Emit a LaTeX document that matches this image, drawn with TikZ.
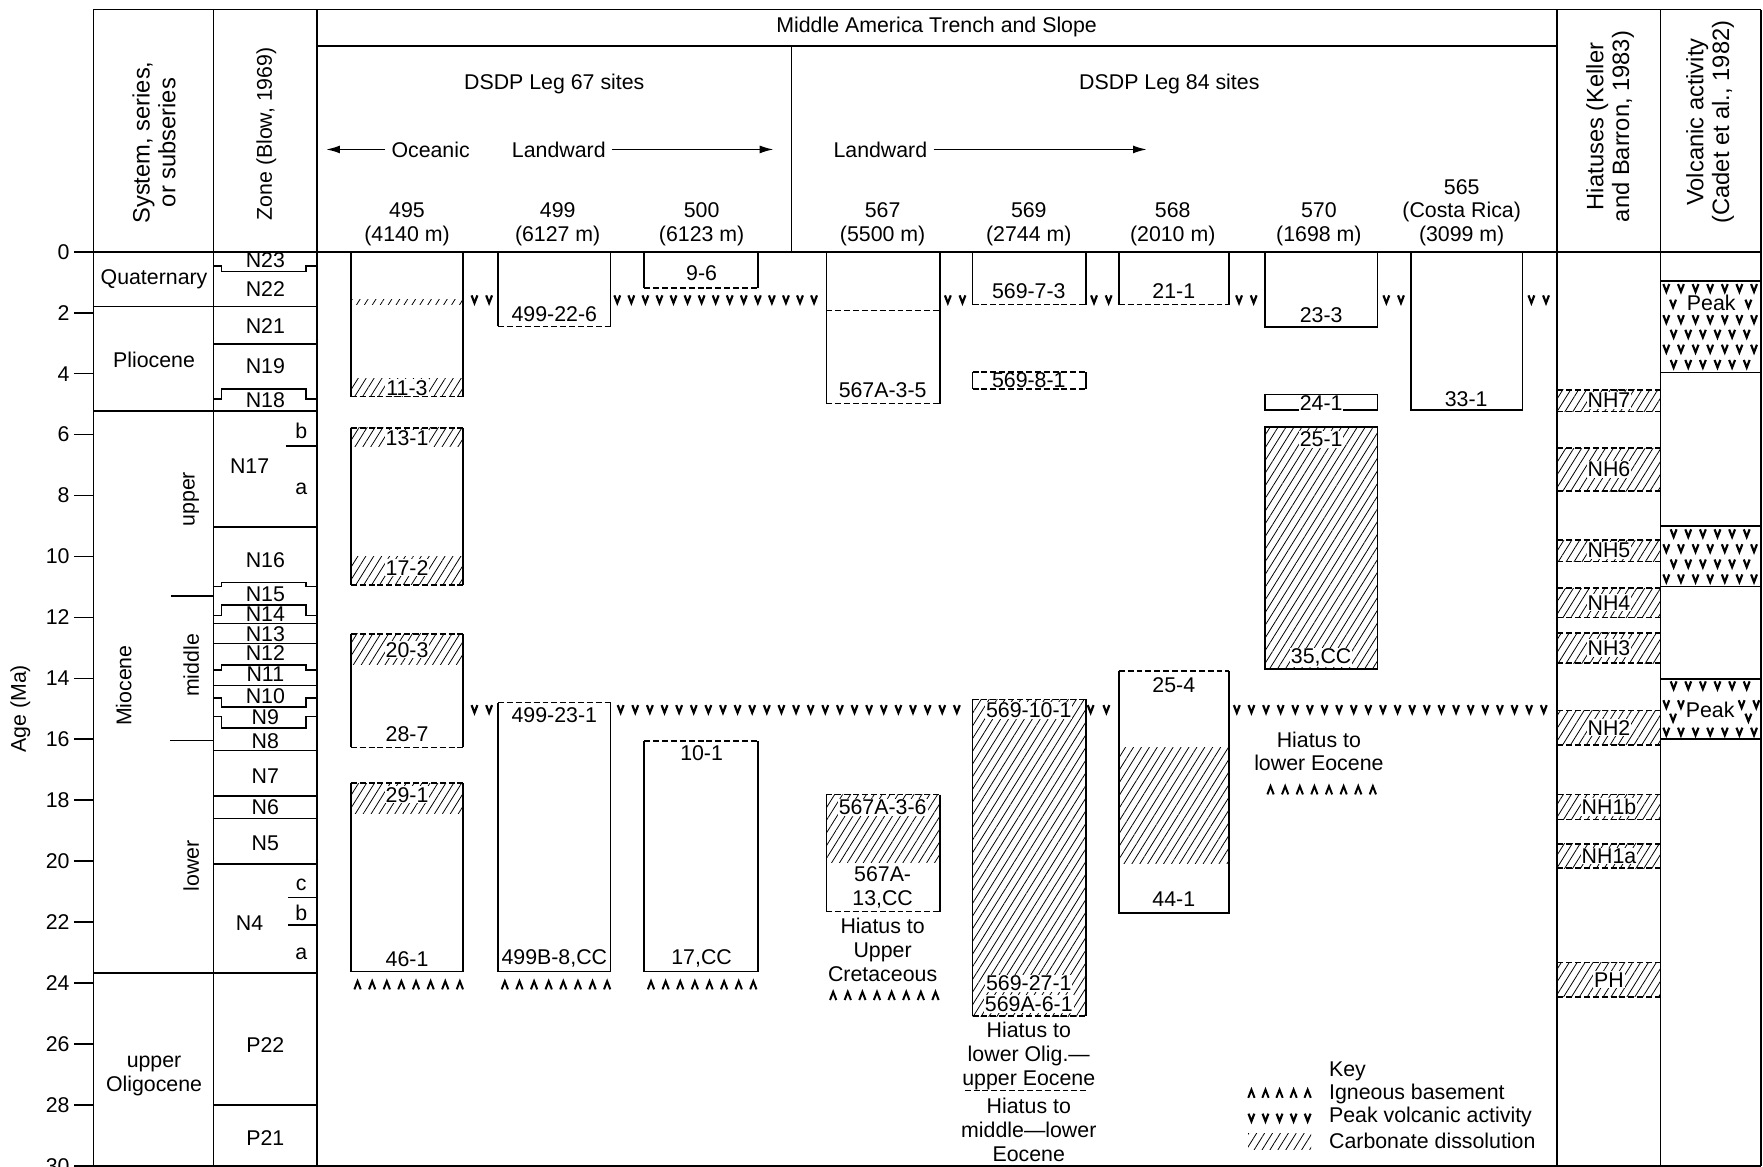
\documentclass[tikz,border=0pt]{standalone}
\usepackage{fontspec}
\setmainfont{Liberation Sans}
\usetikzlibrary{arrows.meta,patterns.meta}

\tikzset{
  frame/.style={line width=0.8pt},
  cutline/.style={line width=0.8pt, dash pattern=on 3pt off 1.5pt},
  hatch/.style={pattern={Lines[angle=58,distance=3.4pt,line width=0.4pt]}},
  onhatch/.style={fill=white, inner sep=0.5pt},
  headrot/.style={rotate=90, anchor=west, align=center, font=\fontsize{12}{13}\selectfont},
  vee/.pic={\draw[line width=1.1pt] (-2.6,-0.12) -- (0,0.13) -- (2.6,-0.12);},
  caret/.pic={\draw[line width=1pt] (-2.8,0.13) -- (0,-0.14) -- (2.8,0.13);},
}

\begin{document}
\begin{tikzpicture}[x=0.02cm, y=-0.542cm,
    every node/.style={font=\fontsize{10.8}{12}\selectfont, inner sep=1pt}]
  \useasboundingbox (0,-8.266) rectangle (1568,30.04);

  % Frame and column rules
  \draw[frame] (83,-7.95) -- (1566,-7.95);
  \draw[frame] (282,-6.75) -- (1385,-6.75);
  \draw[frame] (704,-6.75) -- (704,0);
  \foreach \x in {83,190,282,1385,1477,1566}
    \draw[frame] (\x,-7.95) -- (\x,30);
  \draw[frame] (83,0) -- (1566,0);
  \draw[frame] (83,30) -- (1566,30);

  % Header
  \node (trench) at (833,-7.38) {Middle America Trench and Slope};
  \node (leg67) at (493,-5.5) {DSDP Leg 67 sites};
  \node (leg84) at (1040,-5.5) {DSDP Leg 84 sites};
  \node (oceanic) at (383,-3.36) {Oceanic};
  \node (land67) at (497,-3.36) {Landward};
  \node (land84) at (783,-3.36) {Landward};
  \coordinate (oceanicend) at (290,-3.36);
  \coordinate (land67end) at (688,-3.36);
  \coordinate (land84end) at (1020,-3.36);
  \draw[frame,-{Latex[length=7pt,width=4pt]}] ([xshift=-2pt]oceanic.west) -- (oceanicend);
  \draw[frame,-{Latex[length=7pt,width=4pt]}] ([xshift=2pt]land67.east) -- (land67end);
  \draw[frame,-{Latex[length=7pt,width=4pt]}] ([xshift=2pt]land84.east) -- (land84end);
  \foreach \x/\snum/\sdep in {362/495/4140, 496/499/6127, 624/500/6123, 785/567/5500,
                              915/569/2744, 1043/568/2010, 1173/570/1698}
    \node[align=center] (site\snum) at (\x,-0.9) {\snum\\(\sdep\ m)};
  \node[align=center] (site565) at (1300,-1.29) {565\\(Costa Rica)\\(3099 m)};

  \node[headrot] (syshead) at (137,-0.85) {System, series,\\or subseries};
  \node[rotate=90, anchor=west] (zonehead) at (237,-0.95) {Zone (Blow, 1969)};
  \node[headrot] (hiathead) at (1432,-0.9) {Hiatuses (Keller\\and Barron, 1983)};
  \node[headrot] (volchead) at (1521,-0.85) {Volcanic activity\\(Cadet et al., 1982)};

  % Age axis
  \foreach \a in {0,2,...,30} {
    \draw[frame] (66,\a) -- (83,\a);
    \node[anchor=east] (tick\a) at (64,\a) {\a};
  }
  \node[rotate=90] (agelabel) at (18,15) {Age (Ma)};

  % System, series, subseries
  \draw[frame] (83,1.8) -- (282,1.8);
  \draw[frame] (83,5.22) -- (282,5.22);
  \draw[frame] (83,23.67) -- (282,23.67);
  \draw[frame] (152,11.3) -- (190,11.3);
  \draw[frame] (151,16.04) -- (190,16.04);
  \node (quat) at (137,0.9) {Quaternary};
  \node (plio) at (137,3.55) {Pliocene};
  \node[rotate=90] (mio) at (110,14.24) {Miocene};
  \node[rotate=90] (mioup) at (170,8.12) {upper};
  \node[rotate=90] (miomid) at (170,13.58) {middle};
  \node[rotate=90] (miolow) at (170,20.15) {lower};
  \node[align=center] (olig) at (137,27.05) {upper\\Oligocene};

  % Zones
  \foreach \a in {3.03,9.03,12.2,12.85,14.24,16.37,17.86,18.6,20.1,28.0}
    \draw[frame] (190,\a) -- (282,\a);
  \foreach \s/\m in {0.46/0.65, 4.83/4.5, 10.98/10.86, 11.94/11.6, 13.72/13.56, 14.65/14.95, 15.25/15.63}
    \draw[frame] (190,\s) -- (197,\s) -- (197,\m) -- (272,\m) -- (272,\s) -- (282,\s);
  \draw[frame] (254,6.37) -- (282,6.37);
  \draw[frame] (256,21.2) -- (282,21.2);
  \draw[frame] (256,22.1) -- (282,22.1);
  \foreach \z/\a in {N23/0.26, N22/1.22, N21/2.44, N19/3.76, N18/4.87, N16/10.11, N15/11.25,
                     N14/11.9, N13/12.55, N12/13.17, N11/13.87, N10/14.58, N9/15.28, N8/16.05,
                     N7/17.2, N6/18.23, N5/19.41, P22/26.05, P21/29.08}
    \node (\z) at (236,\a) {\z};
  \node (N17) at (222,7.05) {N17};
  \node (N4) at (222,22.03) {N4};
  \node (n17b) at (268,5.87) {b};
  \node (n17a) at (268,7.79) {a};
  \node (n4c) at (268,20.77) {c};
  \node (n4b) at (268,21.7) {b};
  \node (n4a) at (268,23.03) {a};

  % Site 495
  \fill[hatch] (312,1.55) rectangle (412,1.72);
  \fill[hatch] (312,4.15) rectangle (412,4.75);
  \draw[frame] (312,0) -- (312,4.75) (412,0) -- (412,4.75);
  \draw[cutline] (312,4.75) -- (412,4.75);
  \node[onhatch] (c495a) at (362,4.46) {11-3};
  \fill[hatch] (312,5.78) rectangle (412,6.39);
  \fill[hatch] (312,10.0) rectangle (412,10.93);
  \draw[frame] (312,5.78) -- (312,10.93) (412,5.78) -- (412,10.93);
  \draw[cutline] (312,5.78) -- (412,5.78) (312,10.93) -- (412,10.93);
  \node[onhatch] (c495b) at (362,6.13) {13-1};
  \node[onhatch] (c495c) at (362,10.37) {17-2};
  \fill[hatch] (312,12.54) rectangle (412,13.55);
  \draw[frame] (312,12.54) -- (312,16.27) (412,12.54) -- (412,16.27);
  \draw[cutline] (312,12.54) -- (412,12.54) (312,16.27) -- (412,16.27);
  \node[onhatch] (c495d) at (362,13.06) {20-3};
  \node (c495e) at (362,15.83) {28-7};
  \fill[hatch] (312,17.44) rectangle (412,18.43);
  \draw[frame] (312,17.44) -- (312,23.62) -- (412,23.62) -- (412,17.44);
  \draw[cutline] (312,17.44) -- (412,17.44);
  \node[onhatch] (c495f) at (362,17.82) {29-1};
  \node (c495g) at (362,23.21) {46-1};
  \foreach \x in {318,331,...,409} \pic at (\x,24.08) {caret};

  % Site 499
  \draw[frame] (443,0) -- (443,2.45) (543,0) -- (543,2.45);
  \draw[cutline] (443,2.45) -- (543,2.45);
  \node (c499a) at (493,2.03) {499-22-6};
  \draw[frame] (443,14.8) -- (443,23.62) -- (543,23.62) -- (543,14.8);
  \draw[cutline] (443,14.8) -- (543,14.8);
  \node (c499b) at (493,15.2) {499-23-1};
  \node (c499c) at (493,23.2) {499B-8,CC};
  \foreach \x in {449,462,...,540} \pic at (\x,24.08) {caret};

  % Site 500
  \draw[frame] (573,0) -- (573,1.18) (674,0) -- (674,1.18);
  \draw[cutline] (573,1.18) -- (674,1.18);
  \node (c500a) at (624,0.7) {9-6};
  \draw[frame] (573,16.05) -- (573,23.62) -- (674,23.62) -- (674,16.05);
  \draw[cutline] (573,16.05) -- (674,16.05);
  \node (c500b) at (624,16.46) {10-1};
  \node (c500c) at (624,23.2) {17,CC};
  \foreach \x in {579,592,...,670} \pic at (\x,24.08) {caret};

  % Site 567
  \draw[frame] (735,0) -- (735,4.98) (836,0) -- (836,4.98);
  \draw[cutline] (735,1.92) -- (836,1.92) (735,4.98) -- (836,4.98);
  \node (c567a) at (785,4.54) {567A-3-5};
  \fill[hatch] (735,17.82) rectangle (836,20.05);
  \draw[frame] (735,17.82) -- (735,21.66) (836,17.82) -- (836,21.66);
  \draw[cutline] (735,17.82) -- (836,17.82) (735,21.66) -- (836,21.66);
  \node[onhatch] (c567b) at (785,18.23) {567A-3-6};
  \node[align=center] (c567c) at (785,20.87) {567A-\\13,CC};
  \node[align=center] (gap567) at (785,22.92) {Hiatus to\\Upper\\Cretaceous};
  \foreach \x in {741,754,...,832} \pic at (\x,24.43) {caret};

  % Site 569
  \draw[frame] (865,0) -- (865,1.73) (966,0) -- (966,1.73);
  \draw[cutline] (865,1.73) -- (966,1.73);
  \node (c569a) at (915,1.29) {569-7-3};
  \draw[frame] (865,3.95) -- (865,4.5) (966,3.95) -- (966,4.5);
  \draw[cutline] (865,3.95) -- (966,3.95) (865,4.5) -- (966,4.5);
  \node (c569b) at (915,4.22) {569-8-1};
  \fill[hatch] (865,14.69) rectangle (966,25.09);
  \draw[frame] (865,14.69) -- (865,25.09) (966,14.69) -- (966,25.09);
  \draw[cutline] (865,14.69) -- (966,14.69) (865,25.09) -- (966,25.09);
  \node[onhatch] (c569c) at (915,15.06) {569-10-1};
  \node[onhatch] (c569d) at (915,24.02) {569-27-1};
  \node[onhatch] (c569e) at (915,24.69) {569A-6-1};
  \node[align=center] (gap569a) at (915,26.4) {Hiatus to\\lower Olig.---\\upper Eocene};
  \draw[cutline] (858,27.53) -- (968,27.53);
  \node[align=center] (gap569b) at (915,28.82) {Hiatus to\\middle---lower\\Eocene};

  % Site 568
  \draw[frame] (995,0) -- (995,1.73) (1093,0) -- (1093,1.73);
  \draw[cutline] (995,1.73) -- (1093,1.73);
  \node (c568a) at (1044,1.29) {21-1};
  \fill[hatch] (995,16.27) rectangle (1093,20.07);
  \draw[frame] (995,13.76) -- (995,21.7) -- (1093,21.7) -- (1093,13.76);
  \draw[cutline] (995,13.76) -- (1093,13.76);
  \node (c568b) at (1044,14.24) {25-4};
  \node (c568c) at (1044,21.25) {44-1};

  % Site 570
  \draw[frame] (1125,0) -- (1125,2.47) -- (1225,2.47) -- (1225,0);
  \node (c570a) at (1175,2.07) {23-3};
  \draw[frame] (1125,4.69) rectangle (1225,5.2);
  \node[onhatch] (c570b) at (1175,4.98) {24-1};
  \fill[hatch] (1125,5.75) rectangle (1225,13.7);
  \draw[frame] (1125,5.75) rectangle (1225,13.7);
  \node[onhatch] (c570c) at (1175,6.16) {25-1};
  \node[onhatch] (c570d) at (1175,13.32) {35,CC};
  \node[align=center] (gap570) at (1173,16.4) {Hiatus to\\lower Eocene};
  \foreach \x in {1130,1143,...,1221} \pic at (\x,17.68) {caret};

  % Site 565
  \draw[frame] (1255,0) -- (1255,5.2) -- (1354,5.2) -- (1354,0);
  \node (c565a) at (1304,4.83) {33-1};

  % Peak volcanic activity between the sites
  \foreach \x in {422,435,843,856,973,986,1102,1115,1233,1246,1362,1375} \pic at (\x,1.55) {vee};
  \foreach \x in {549,561.5,...,730} \pic at (\x,1.55) {vee};
  \foreach \x in {422,435,970,984} \pic at (\x,15.0) {vee};
  \foreach \x in {552,565,...,856} \pic at (\x,15.0) {vee};
  \foreach \x in {1100,1113,...,1374} \pic at (\x,15.0) {vee};

  % Hiatuses
  \foreach \t/\b/\h in {4.53/5.24/NH7, 6.44/7.86/NH6, 9.46/10.16/NH5, 11.04/12.0/NH4, 12.51/13.5/NH3,
                        15.06/16.18/NH2, 17.82/18.64/NH1b, 19.43/20.23/NH1a, 23.33/24.46/PH} {
    \fill[hatch] (1385,\t) rectangle (1477,\b);
    \draw[cutline] (1385,\t) -- (1477,\t) (1385,\b) -- (1477,\b);
    \node[onhatch] (\h) at (1431,{(\t+\b)/2}) {\h};
  }

  % Volcanic activity
  \draw[frame] (1477,0.95) -- (1566,0.95) (1477,3.96) -- (1566,3.96);
  \draw[frame] (1477,9.0) -- (1566,9.0) (1477,10.99) -- (1566,10.99);
  \draw[frame] (1477,14.02) -- (1566,14.02) (1477,15.99) -- (1566,15.99);
  \foreach \a in {1.18,2.2,3.17,9.72,10.71,15.74}
    \foreach \x in {1482,1495,...,1560} \pic at (\x,\a) {vee};
  \foreach \a in {2.68,3.67,9.23,10.22,14.22}
    \foreach \x in {1488.5,1501.5,...,1554} \pic at (\x,\a) {vee};
  \foreach \x in {1488,1555} \pic at (\x,1.69) {vee};
  \node (peak1) at (1522,1.69) {Peak};
  \foreach \x/\a in {1482/14.84, 1495/14.84, 1488/15.28, 1549/14.84, 1562/14.84, 1555/15.28}
    \pic at (\x,\a) {vee};
  \node (peak3) at (1521,15.03) {Peak};

  % Key
  \node[anchor=west] (key) at (1180,26.9) {Key};
  \foreach \x in {1113,1125.5,...,1163} \pic at (\x,27.64) {caret};
  \node[anchor=west] (keyign) at (1180,27.64) {Igneous basement};
  \foreach \x in {1113,1125.5,...,1163} \pic at (\x,28.41) {vee};
  \node[anchor=west] (keyvolc) at (1180,28.41) {Peak volcanic activity};
  \fill[hatch] (1110,28.95) rectangle (1166,29.45);
  \node[anchor=west] (keycarb) at (1180,29.19) {Carbonate dissolution};
\end{tikzpicture}
\end{document}
